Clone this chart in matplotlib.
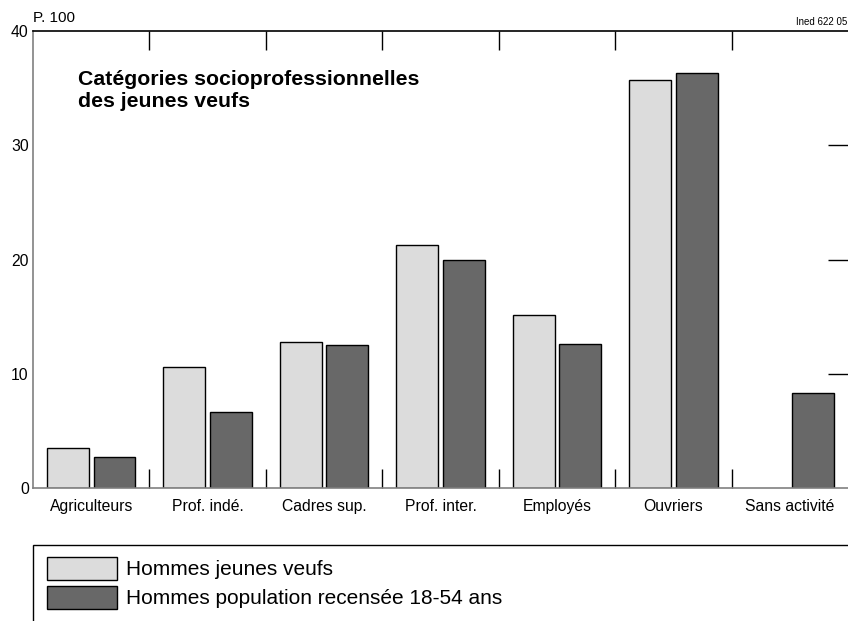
import numpy as np
import matplotlib.pyplot as plt
from matplotlib.patches import Rectangle

plt.rcParams['font.family'] = ['Liberation Sans', 'DejaVu Sans']

categories = ['Agriculteurs', 'Prof. indé.', 'Cadres sup.', 'Prof. inter.',
              'Employés', 'Ouvriers', 'Sans activité']
veufs = [3.5, 10.6, 12.8, 21.3, 15.1, 35.7, 0.0]
population = [2.7, 6.65, 12.5, 19.95, 12.6, 36.3, 8.3]
series_labels = ['Hommes jeunes veufs', 'Hommes population recensée 18-54 ans']

fig = plt.figure(figsize=(8.48, 6.21), dpi=100)
ax = fig.add_axes([33 / 848, 133 / 621, 815 / 848, 457 / 621])

x = np.arange(len(categories))
w = 0.36
b1 = ax.bar(x - 0.2, veufs, w, color='#dcdcdc', edgecolor='black', linewidth=1,
            label=series_labels[0])
b2 = ax.bar(x + 0.2, population, w, color='#686868', edgecolor='black', linewidth=1,
            label=series_labels[1])
# no visible bar for a zero value
for r, v in zip(b1, veufs):
    if v == 0:
        r.set_visible(False)

ax.set_xlim(-0.5, len(categories) - 0.5)
ax.set_ylim(0, 40)
ax.set_xticks(x)
ax.set_xticklabels(categories, fontsize=11.3)
ax.set_xticks(x[:-1] + 0.5, minor=True)
ax.tick_params(axis='x', which='major', length=0, pad=8)
ax.tick_params(axis='x', which='minor', direction='in', top=True, bottom=True,
               length=13.5, width=1, color='black')
ax.set_yticks([0, 10, 20, 30, 40])
ax.tick_params(axis='y', left=False, right=True, direction='in', length=14.4,
               width=1, color='black', labelsize=11.3, pad=3)
# right-hand ticks only at 10, 20, 30
for t, v in zip(ax.yaxis.get_major_ticks(), [0, 10, 20, 30, 40]):
    if v in (0, 40):
        t.tick2line.set_visible(False)

ax.spines['right'].set_visible(False)
ax.spines['left'].set_color('#808080')
ax.spines['bottom'].set_color('#808080')
ax.spines['top'].set_color('black')
for s in ax.spines.values():
    s.set_linewidth(1.2)

ax.text(0.055, 0.915, 'Catégories socioprofessionnelles\ndes jeunes veufs',
        transform=ax.transAxes, fontsize=15.3, fontweight='bold', va='top',
        ha='left', linespacing=1.22)

fig.text(33 / 848, 1 - 18 / 621, 'P. 100', fontsize=11, va='center', ha='left')
fig.text(847 / 848, 1 - 22 / 621, 'Ined 622 05', fontsize=7, va='center', ha='right')

fig.patches.append(Rectangle((33 / 848, -0.02), 0.99, (621 - 545) / 621 + 0.02,
                             transform=fig.transFigure, fill=False,
                             edgecolor='black', linewidth=1))
fig.legend(handles=[b1, b2], labels=series_labels, loc='upper left',
           bbox_to_anchor=(47 / 848, 1 - 557 / 621), frameon=False, fontsize=15,
           handlelength=3.37, handleheight=1.3, labelspacing=0.3, handletextpad=0.4,
           borderpad=0, borderaxespad=0)

fig.savefig('out.png', dpi=100)
